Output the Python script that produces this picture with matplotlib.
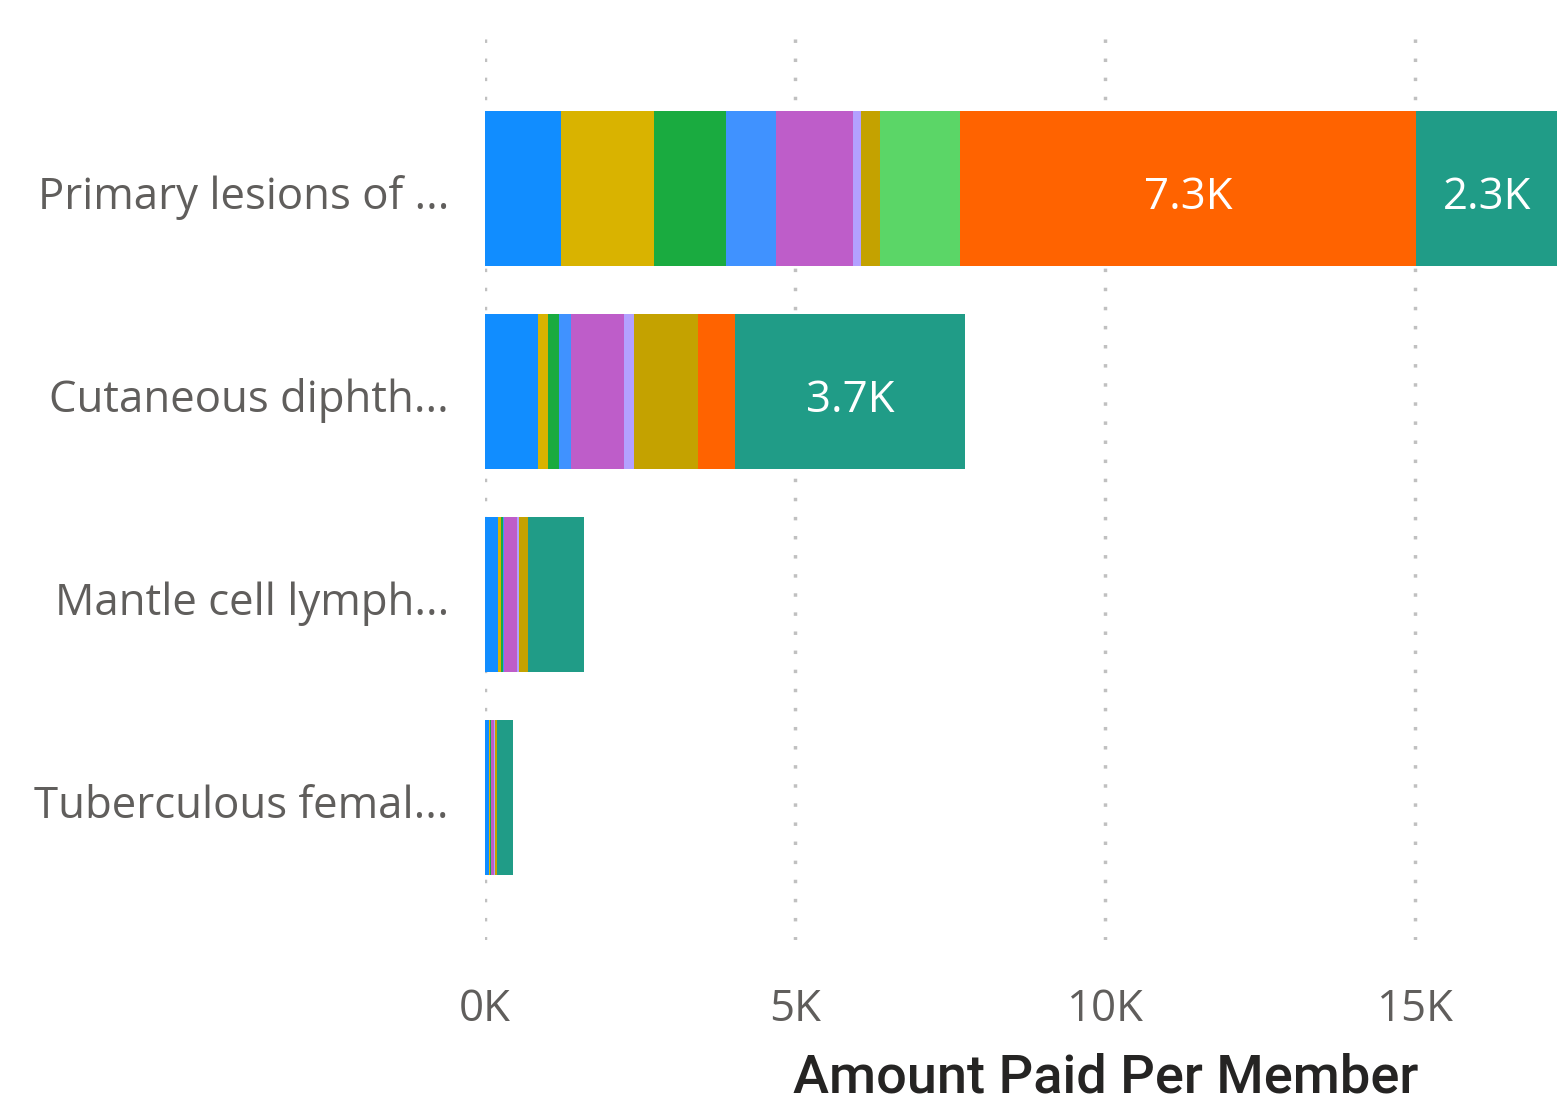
import matplotlib
matplotlib.use("Agg")
import matplotlib.pyplot as plt
import numpy as np

# -----------------------------
# Data (values in thousands)
# -----------------------------
categories = [
    "Primary lesions of ...",
    "Cutaneous diphth...",
    "Mantle cell lymph...",
    "Tuberculous femal...",
]

series_colors = [
    "#118DFF", "#D9B300", "#1AAB40", "#4092FF", "#BE5DC9",
    "#B3A1FF", "#C4A200", "#5BD667", "#FF6300", "#209C87",
]

seg_blue = [1.23, 0.855, 0.21, 0.065]
seg_yellow = [1.50, 0.16, 0.05, 0.016]
seg_green = [1.15, 0.18, 0.03, 0.016]
seg_lightblue = [0.82, 0.20, 0.016, 0.0]
seg_purple = [1.23, 0.85, 0.215, 0.05]
seg_lavender = [0.13, 0.16, 0.03, 0.01]
seg_darkyellow = [0.31, 1.03, 0.145, 0.03]
seg_lightgreen = [1.29, 0.0, 0.0, 0.0]
seg_orange = [7.35, 0.60, 0.0, 0.0]
seg_teal = [2.29, 3.71, 0.90, 0.27]

segments = [seg_blue, seg_yellow, seg_green, seg_lightblue, seg_purple,
            seg_lavender, seg_darkyellow, seg_lightgreen, seg_orange, seg_teal]

xticks = [0, 5, 10, 15]
xtick_labels = ["0K", "5K", "10K", "15K"]

# -----------------------------
# Figure
# -----------------------------
W, H = 1557, 1108
fig = plt.figure(figsize=(W / 100, H / 100), dpi=100)
ax = fig.add_axes([485 / W, 1 - 940 / H, (W - 485) / W, (940 - 35) / H])

y = np.arange(len(categories))
left = np.zeros(len(categories))
for vals, col in zip(segments, series_colors):
    vals = np.array(vals)
    ax.barh(y, vals, left=left, height=0.764, color=col, zorder=3)
    for i, v in enumerate(vals):
        if v >= 2.0:
            ax.text(left[i] + v / 2, y[i] + 0.05, f"{v:.1f}K", ha="center",
                    va="center", color="white", fontsize=31.5,
                    family="Open Sans", zorder=4)
    left += vals

ax.set_xlim(0, (W - 485) / 62.0)
ax.set_ylim(3.704, -0.754)

ax.set_xticks(xticks)
ax.set_xticklabels(xtick_labels)
ax.set_yticks(y + 0.02)
ax.set_yticklabels(categories)
ax.tick_params(axis="both", length=0, labelsize=31.5, colors="#605E5C")
ax.tick_params(axis="x", pad=34)
ax.tick_params(axis="y", pad=26)
for lbl in ax.get_xticklabels() + ax.get_yticklabels():
    lbl.set_family("Open Sans")

ax.grid(axis="x", color="#C0C0C0", linestyle=(0, (1, 4.5)), linewidth=2.5, zorder=0)
for s in ax.spines.values():
    s.set_visible(False)

fig.text(1106 / W, 1 - 1078 / H, "Amount Paid Per Member", ha="center",
         va="center", fontsize=39, color="#252423", family="Roboto",
         weight="medium")

fig.savefig("out.png", dpi=100)
